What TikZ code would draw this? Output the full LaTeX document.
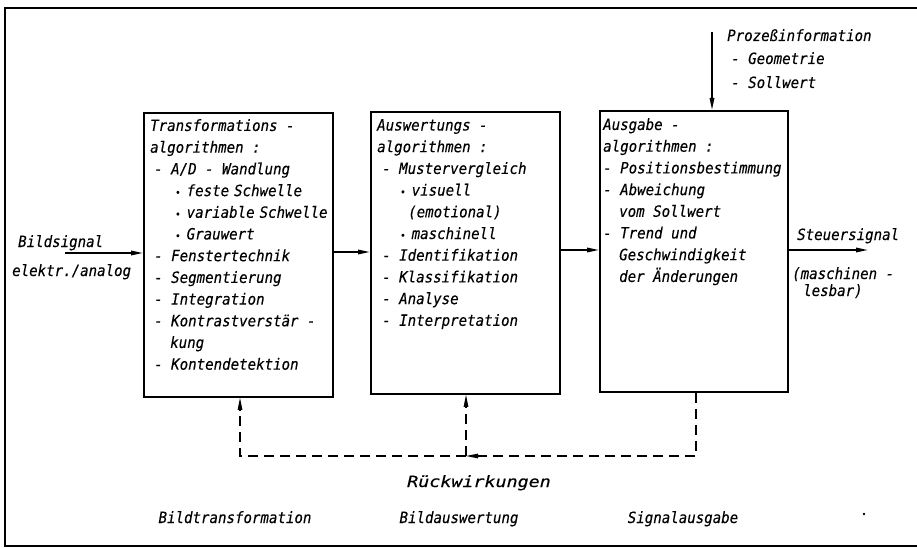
\documentclass[tikz,border=0pt]{standalone}
\usepackage{fontspec}
\usepackage{graphicx}
\setmainfont{DejaVu Sans Mono}[FakeStretch=0.91, FakeBold=0.25]
\usetikzlibrary{arrows.meta}
\newcommand{\bul}{{\fontsize{10}{10}\selectfont\textbullet}\hspace{6pt}}
\newcommand{\ws}{\hspace{5pt}}
\begin{document}
\begin{tikzpicture}[x=1pt,y=-1pt,
  txt/.style={font=\itshape\fontsize{15.5}{21.7}\selectfont, inner sep=0pt, align=left},
  lbl/.style={font=\itshape\fontsize{15.5}{21.7}\selectfont, inner sep=0pt},
  blk/.style={draw, line width=1.8pt, anchor=north west, inner sep=0pt},
  sig/.style={line width=1.6pt, -{Triangle[length=12pt,width=4.5pt]}},
  fb/.style={line width=1.1pt, dash pattern=on 10pt off 6pt},
  fba/.style={fb, -{Triangle[length=12pt,width=4.5pt]}}]
\useasboundingbox (0,0) rectangle (917,548);
% frame
\draw[line width=1.3pt] (917,8) -- (5,8) -- (5,546) -- (917,546);
% blocks
\node[blk, minimum width=189pt, minimum height=284pt] (b1) at (143,112) {};
\node[blk, minimum width=189pt, minimum height=282pt] (b2) at (370,111) {};
\node[blk, minimum width=188pt, minimum height=281pt] (b3) at (599,110) {};
% block texts
\node[txt, anchor=north west] (t1) at (150,119) {Transformations -\\
algorithmen :\\
\hspace*{4pt}- A/D - Wandlung\\
\hspace*{25pt}\bul feste\ws Schwelle\\
\hspace*{25pt}\bul variable\ws Schwelle\\
\hspace*{25pt}\bul Grauwert\\
\hspace*{4pt}- Fenstertechnik\\
\hspace*{4pt}- Segmentierung\\
\hspace*{4pt}- Integration\\
\hspace*{4pt}- Kontrastverstär -\\
\hspace*{20pt}kung\\
\hspace*{4pt}- Kontendetektion};
\node[txt, anchor=north west] (t2) at (377,119) {Auswertungs -\\
algorithmen :\\
\hspace*{5pt}- Mustervergleich\\
\hspace*{23pt}\bul visuell\\
\hspace*{31pt}(emotional)\\
\hspace*{23pt}\bul maschinell\\
\hspace*{5pt}- Identifikation\\
\hspace*{5pt}- Klassifikation\\
\hspace*{5pt}- Analyse\\
\hspace*{5pt}- Interpretation};
\node[txt, anchor=north west] (t3) at (603,118) {Ausgabe -\\
algorithmen :\\
- Positionsbestimmung\\
- Abweichung\\
\hspace*{16pt}vom Sollwert\\
- Trend und\\
\hspace*{16pt}Geschwindigkeit\\
\hspace*{16pt}der Änderungen};
% signal path
\coordinate (in) at (65,253);
\coordinate (out) at (868,250);
\coordinate (pi) at (712,32);
\draw[sig] (in) -- (in -| b1.west);
\draw[sig] (b1.east |- 0,252) -- (b2.west |- 0,252);
\draw[sig] (b2.east |- out) -- (b3.west |- out);
\draw[sig] (b3.east |- out) -- (out);
\draw[sig] (pi) -- (pi |- b3.north);
% feedback
\coordinate (j) at (466,456);
\coordinate (f1) at (240,456);
\coordinate (f3) at (696,456);
\draw[fba] (b3.south -| f3) -- (f3) -- (j);
\draw[fba] (j) -- (j |- b2.south);
\draw[fba] (j) -- (f1) -- (f1 |- b1.south);
% labels
\node[lbl, anchor=base west] (l1) at (18,247) {Bildsignal};
\node[lbl, anchor=base west] (l2) at (12,276) {elektr./analog};
\node[lbl, anchor=base west] (l3) at (797,240) {Steuersignal};
\node[lbl, anchor=base west] (l4) at (792,279) {(maschinen -};
\node[lbl, anchor=base west] (l5) at (803,296) {lesbar)};
\node[lbl, anchor=base west] (p1) at (727,41) {Prozeßinformation};
\node[lbl, anchor=base west] (p2) at (731,64) {- Geometrie};
\node[lbl, anchor=base west] (p3) at (731,88) {- Sollwert};
\node[lbl, anchor=base] (rw) at (479,487) {\scalebox{1.3}[1]{Rückwirkungen}};
\node[lbl, anchor=base] (c1) at (235,523) {Bildtransformation};
\node[lbl, anchor=base] (c2) at (459,523) {Bildauswertung};
\node[lbl, anchor=base] (c3) at (683,523) {Signalausgabe};
\fill (864,514) circle (1.3pt);
\end{tikzpicture}
\end{document}
